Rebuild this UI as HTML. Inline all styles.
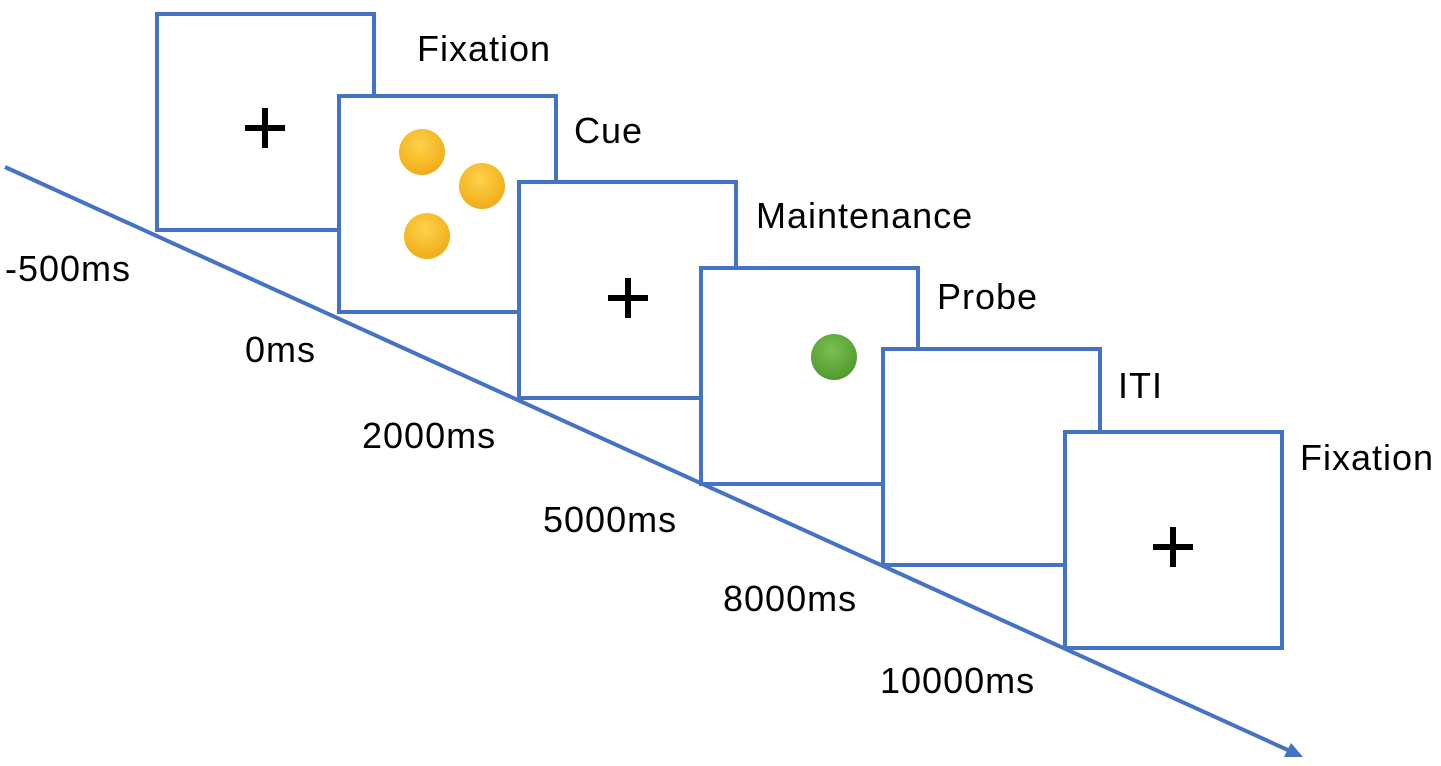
<!DOCTYPE html>
<html><head><meta charset="utf-8"><style>
html,body{margin:0;padding:0;background:#fff;}
svg{display:block;font-family:"Liberation Sans",sans-serif;}
text{font-size:36px;letter-spacing:1px;fill:#000;}
</style></head><body>
<svg id="fig" width="1441" height="766" viewBox="0 0 1441 766">
<defs>
<radialGradient id="yel" cx="45%" cy="35%" r="65%"><stop offset="0" stop-color="#ffd24a"/><stop offset="1" stop-color="#f0ac18"/></radialGradient>
<radialGradient id="grn" cx="45%" cy="35%" r="65%"><stop offset="0" stop-color="#7cbf52"/><stop offset="1" stop-color="#4f9a2e"/></radialGradient>
</defs>
<line x1="5" y1="167" x2="1290" y2="751" stroke="#4472C4" stroke-width="4"/>
<polygon points="1303,757 1284,757 1291,743" fill="#4472C4"/>
<g id="boxes"></g>
</svg>
<script>
const phases=["Fixation","Cue","Maintenance","Probe","ITI","Fixation"];
const times=["-500ms","0ms","2000ms","5000ms","8000ms","10000ms"];
const boxX=[157,339,519,701,883,1065];
const boxY=[14,96,182,268,349,432];
const labelPos=[[417,61],[574,143],[756,228],[937,309],[1118,398],[1300,470]];
const timePos=[[5,281],[245,362],[362,448],[543,532],[723,611],[880,693]];
const NS="http://www.w3.org/2000/svg";
const g=document.getElementById('boxes');
function mk(t,a){const e=document.createElementNS(NS,t);for(const k in a)e.setAttribute(k,a[k]);return e;}
for(let i=0;i<6;i++){
  const r=mk('rect',{x:boxX[i],y:boxY[i],width:217,height:216,fill:'#fff',stroke:'#4472C4','stroke-width':4});
  
  
  g.appendChild(r);
  const l=mk('text',{x:labelPos[i][0],y:labelPos[i][1]});l.textContent=phases[i];
  
  
  g.appendChild(l);
  const t=mk('text',{x:timePos[i][0],y:timePos[i][1]});t.textContent=times[i];
  
  
  g.appendChild(t);
}
function cross(cx,cy,n){
  const c=mk('path',{d:`M${cx-20} ${cy}H${cx+20}M${cx} ${cy-20}V${cy+20}`,stroke:'#000','stroke-width':6});
  
  
  g.appendChild(c);
}
cross(265,128,1);cross(628,298,2);cross(1173,547,3);
[[422,152],[482,186],[427,236]].forEach((p,i)=>{
  const c=mk('circle',{cx:p[0],cy:p[1],r:23,fill:'url(#yel)'});
  
  
  g.appendChild(c);
});
const gc=mk('circle',{cx:834,cy:357,r:23,fill:'url(#grn)'});


g.appendChild(gc);
</script>
</body></html>
